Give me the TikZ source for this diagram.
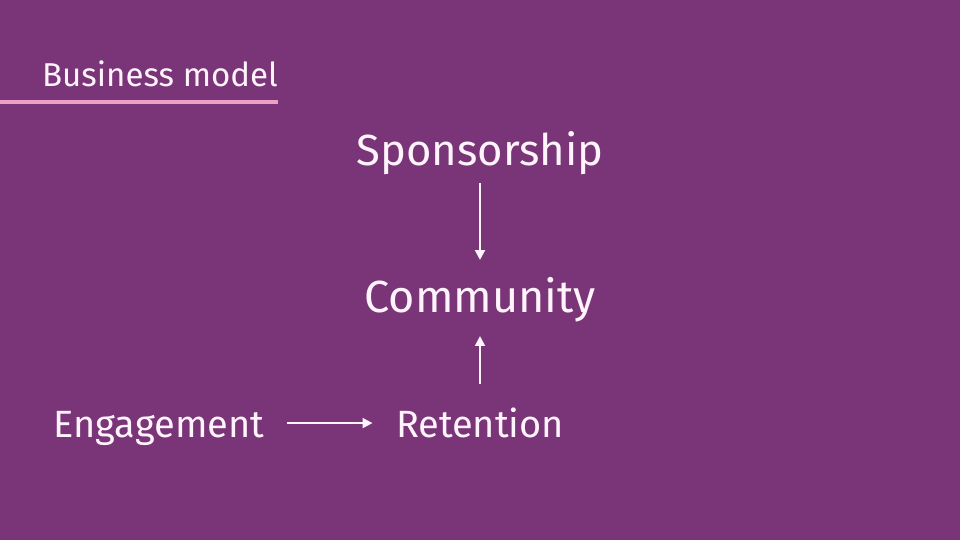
\documentclass[tikz,border=0pt]{standalone}
\usepackage{fontspec}
\setmainfont{Fira Sans}
\usetikzlibrary{positioning, arrows.meta}
\definecolor{slidebg}{HTML}{7A3578}
\definecolor{slidepink}{HTML}{EE9FC6}
\definecolor{slidetext}{HTML}{FFF4FB}

\begin{document}
\begin{tikzpicture}[x=0.025cm, y=0.025cm,
  word/.style={text=slidetext, inner sep=0pt, anchor=base, text height=24pt, text depth=4.2pt},
  flow/.style={draw=slidetext, line width=1.4pt, -{Triangle[length=7pt, width=7pt]}}]

% Background
\fill[slidebg] (0,0) rectangle (960,540);

% Title
\node[word, font=\fontsize{23.5}{28}\selectfont] (title) at (160,453) {Business model};
\fill[slidepink] (0,436) rectangle (278,440);

% Chain of terms
\node[word, font=\fontsize{31}{36}\selectfont] (spon) at (480,374) {Sponsorship};
\node[word, font=\fontsize{32}{36}\selectfont] (comm) at (480,227) {Community};
\node[word, font=\fontsize{27}{32}\selectfont] (eng) at (159,103) {Engagement};
\node[word, font=\fontsize{27}{32}\selectfont] (ret) at (480,103) {Retention};

% Arrows
\draw[flow, shorten <=7.9pt, shorten >=13.5pt] (spon.south) -- (comm.north);
\draw[flow, shorten <=13.5pt, shorten >=12pt] (ret.north) -- (comm.south);
\draw[flow, shorten <=16pt, shorten >=16.5pt] (eng.east) -- (ret.west);

\end{tikzpicture}
\end{document}
